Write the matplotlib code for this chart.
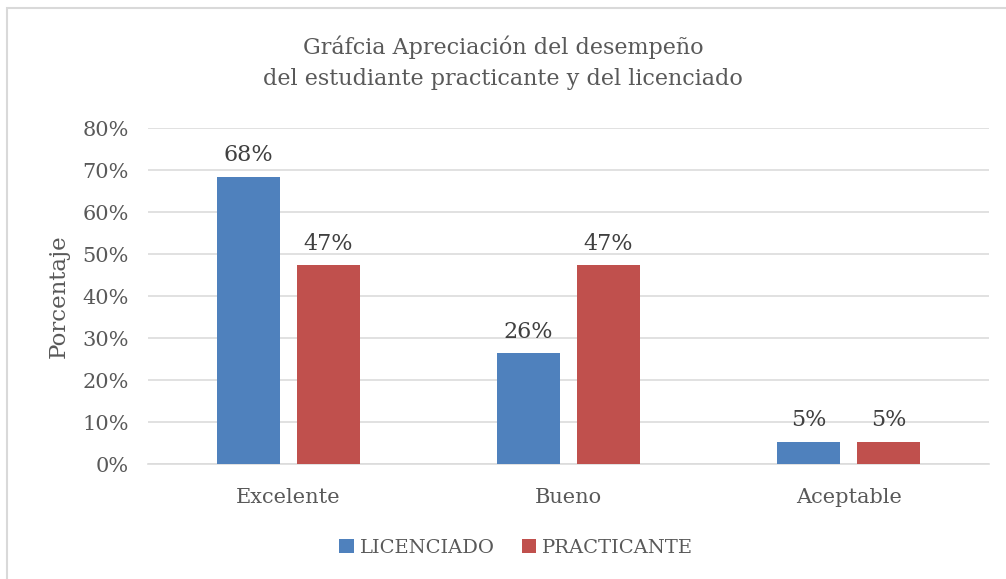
import numpy as np
import matplotlib.pyplot as plt
from matplotlib.patches import Rectangle

categorias = ["Excelente", "Bueno", "Aceptable"]
licenciado = [13 / 19, 5 / 19, 1 / 19]
practicante = [9 / 19, 9 / 19, 1 / 19]
yticks = [0, 0.1, 0.2, 0.3, 0.4, 0.5, 0.6, 0.7, 0.8]

txt = "#595959"
plt.rcParams['font.family'] = ['DejaVu Serif']

fig = plt.figure(figsize=(10.06, 5.79), dpi=100)
ax = fig.add_axes([148 / 1006, 1 - 464 / 579, 841 / 1006, 336 / 579])

# outer chart border
fig.patches.append(Rectangle((7 / 1006, -0.1), 1.2, 1 - 8 / 579 + 0.1,
                             transform=fig.transFigure, fill=False,
                             edgecolor="#d9d9d9", lw=1.5))

x = np.arange(len(categorias))
w = 0.225
off = 0.1425
b1 = ax.bar(x - off, licenciado, w, color="#4f81bd", label="LICENCIADO", zorder=3)
b2 = ax.bar(x + off, practicante, w, color="#c0504d", label="PRACTICANTE", zorder=3)

for bars in (b1, b2):
    for r in bars:
        h = r.get_height()
        ax.text(r.get_x() + r.get_width() / 2, h + 0.025, f"{h * 100:.0f}%",
                ha="center", va="bottom", fontsize=16, color="#404040")

ax.set_xlim(-0.5, 2.5)
ax.set_ylim(0, 0.8)
ax.set_yticks(yticks)
ax.set_yticklabels([f"{int(round(t * 100))}%" for t in yticks])
ax.set_xticks(x)
ax.set_xticklabels(categorias)
ax.tick_params(axis="both", length=0, labelsize=15, labelcolor=txt)
ax.tick_params(axis="y", pad=14)
ax.tick_params(axis="x", pad=17)
ax.grid(axis="y", color="#dcdcdc", lw=1.2, zorder=0)
for s in ax.spines.values():
    s.set_visible(False)
ax.spines["bottom"].set_visible(True)
ax.spines["bottom"].set_color("#dcdcdc")
ax.spines["bottom"].set_linewidth(1.2)

ax.set_ylabel("Porcentaje", fontsize=16.5, color=txt, labelpad=9)

fig.text(0.5, 1 - 63 / 579, "Gráfcia Apreciación del desempeño\ndel estudiante practicante y del licenciado",
         ha="center", va="center", fontsize=16, color=txt, linespacing=1.55)

ax.legend(loc="center", bbox_to_anchor=(0.513, 1 - 548 / 579), bbox_transform=fig.transFigure,
          ncol=2, frameon=False, fontsize=14, labelcolor=txt, handlelength=0.75,
          handleheight=0.75, handletextpad=0.3, columnspacing=1.4)

plt.savefig("out.png", dpi=100)
